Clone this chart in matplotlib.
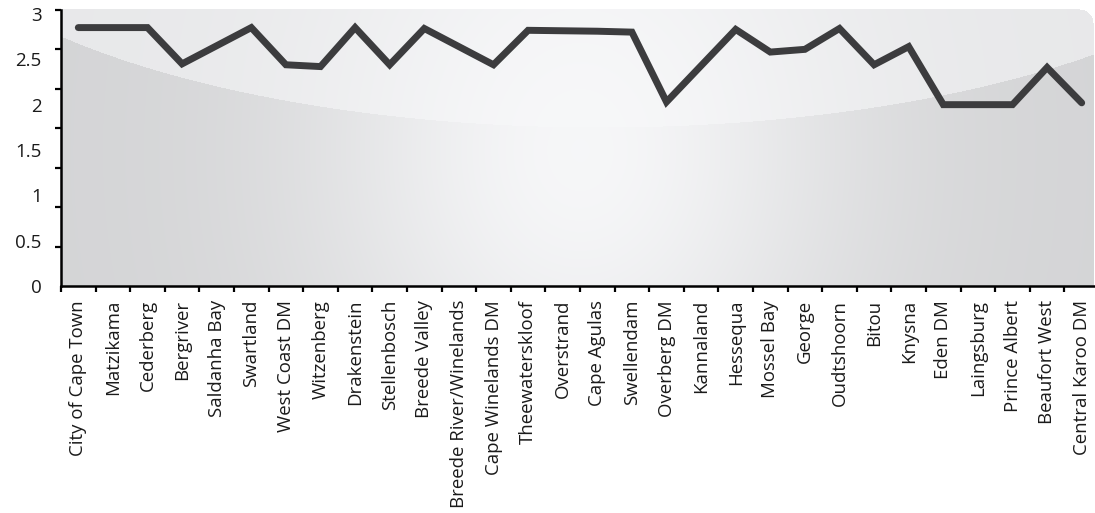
import numpy as np
import matplotlib
matplotlib.use("Agg")
import matplotlib.pyplot as plt

# municipalities and their scores
municipalities = [
    "City of Cape Town", "Matzikama", "Cederberg", "Bergriver", "Saldanha Bay",
    "Swartland", "West Coast DM", "Witzenberg", "Drakenstein", "Stellenbosch",
    "Breede Valley", "Breede River/Winelands", "Cape Winelands DM", "Theewaterskloof",
    "Overstrand", "Cape Agulas", "Swellendam", "Overberg DM", "Kannaland", "Hessequa",
    "Mossel Bay", "George", "Oudtshoorn", "Bitou", "Knysna", "Eden DM", "Laingsburg",
    "Prince Albert", "Beaufort West", "Central Karoo DM",
]
scores = [
    2.85, 2.85, 2.85, 2.45, 2.65,
    2.85, 2.44, 2.42, 2.85, 2.44,
    2.84, 2.64, 2.44, 2.82,
    2.815, 2.81, 2.80, 2.03, 2.43, 2.83,
    2.58, 2.61, 2.84, 2.44, 2.64, 2.00, 2.00,
    2.00, 2.41, 2.02,
]
ytick_values = [0, 0.5, 1, 1.5, 2, 2.5, 3]
ytick_labels = ["0", "0.5", "1", "1.5", "2", "2.5", "3"]

W, H = 1095, 513
plt.rcParams["font.family"] = ["Open Sans", "DejaVu Sans"]

fig = plt.figure(figsize=(W / 100, H / 100), dpi=100)

# glossy background panel (drawn in pixel space behind the chart)
bg = fig.add_axes([0, 0, 1, 1])
yy, xx = np.mgrid[0:H, 0:W].astype(float)
glow = np.exp(-((xx - 580) / 270) ** 2 - ((yy - 150) / 330) ** 2)
lower = 212 + 34 * glow
upper = 232 + 15 * glow
# elliptical highlight edge
a, b, xc, cy = 700.0, 251.0, 600.0, -124.0
edge = cy + b * np.sqrt(np.clip(1 - ((xx - xc) / a) ** 2, 0, None))
gray = np.where(yy < edge, upper, lower) / 255.0
rgba = np.zeros((H, W, 4))
rgba[..., 0] = gray
rgba[..., 1] = gray + 0.002
rgba[..., 2] = gray + 0.008
x0, x1, y0, y1, r = 61, 1093, 9, 286, 14
inside = (xx >= x0) & (xx <= x1) & (yy >= y0) & (yy <= y1)
corner = (xx > x1 - r) & (yy < y0 + r) & (((xx - (x1 - r)) ** 2 + (yy - (y0 + r)) ** 2) > r ** 2)
rgba[..., 3] = (inside & ~corner).astype(float)
bg.imshow(np.clip(rgba, 0, 1), extent=(0, W, H, 0), interpolation="bilinear")
bg.set_xlim(0, W)
bg.set_ylim(H, 0)
bg.axis("off")

# main chart
ytop = 3.044
ax = fig.add_axes([61 / W, (H - 286) / H, 1038 / W, 276 / H])
ax.set_facecolor("none")
x = np.arange(len(municipalities))
ax.plot(x, scores, color="#3c3c3e", lw=5.0, solid_joinstyle="miter",
        solid_capstyle="round", zorder=3)

ax.set_xlim(-0.5, len(municipalities) - 0.5)
ax.set_ylim(0, ytop)

ax.set_xticks(x)
ax.set_xticklabels(municipalities, rotation=90, fontsize=13.4, color="#1a1a1a")
ax.set_xticks(np.arange(len(municipalities) + 1) - 0.5, minor=True)
ax.tick_params(axis="x", which="major", length=0, pad=10)
ax.tick_params(axis="x", which="minor", length=4, width=1.6, direction="out")

ax.set_yticks(ytick_values)
ax.set_yticklabels(ytick_labels, fontsize=13.5, color="#1a1a1a")
ax.set_yticks(np.linspace(0, ytop, 8), minor=True)
ax.tick_params(axis="y", which="major", length=0, pad=14)
ax.tick_params(axis="y", which="minor", length=4, width=1.6, direction="out")

for side in ["top", "right"]:
    ax.spines[side].set_visible(False)
for side in ["left", "bottom"]:
    ax.spines[side].set_linewidth(1.8)
    ax.spines[side].set_color("black")

fig.savefig("out.png", dpi=100)
